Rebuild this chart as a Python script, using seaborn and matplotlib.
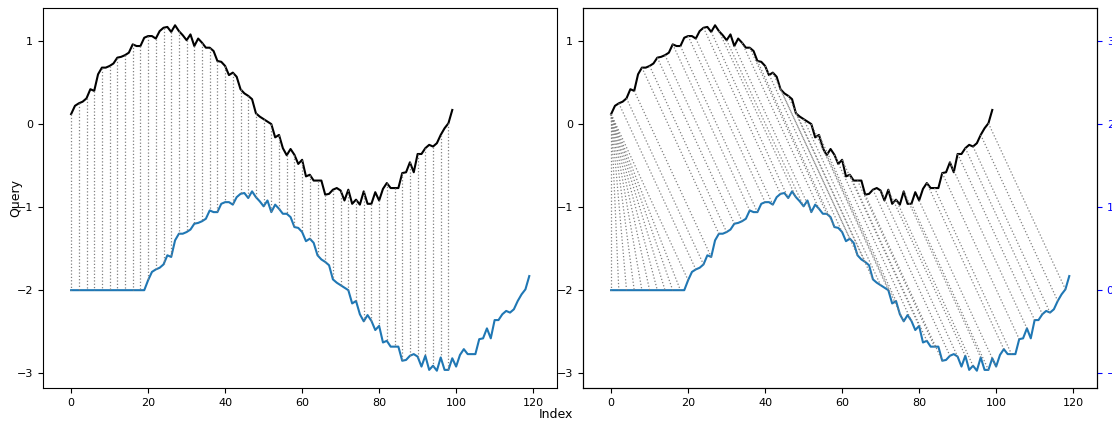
import numpy as np
import pandas as pd
import matplotlib
matplotlib.use("Agg")
import matplotlib.pyplot as plt
import seaborn as sns
from matplotlib.collections import LineCollection

# ---- data ----
query = [0.12, 0.22, 0.25, 0.27, 0.31, 0.42, 0.40, 0.60, 0.68, 0.68,
         0.70, 0.73, 0.80, 0.81, 0.83, 0.86, 0.96, 0.94, 0.94, 1.04,
         1.06, 1.06, 1.03, 1.12, 1.16, 1.17, 1.11, 1.19, 1.12, 1.07,
         1.01, 1.08, 0.94, 1.03, 0.98, 0.92, 0.92, 0.88, 0.76, 0.75,
         0.70, 0.59, 0.62, 0.57, 0.42, 0.37, 0.34, 0.30, 0.13, 0.09,
         0.06, 0.03, 0.00, -0.16, -0.13, -0.29, -0.375, -0.30, -0.37, -0.48,
         -0.43, -0.63, -0.61, -0.68, -0.68, -0.68, -0.85, -0.84, -0.79, -0.77,
         -0.80, -0.92, -0.79, -0.96, -0.91, -0.97, -0.81, -0.96, -0.96, -0.82,
         -0.92, -0.78, -0.71, -0.77, -0.77, -0.77, -0.59, -0.58, -0.46, -0.58,
         -0.36, -0.36, -0.29, -0.25, -0.27, -0.23, -0.13, -0.05, 0.01, 0.17]
reference_pad = [0.0] * 20
reference = reference_pad + query
offset = -2.0

# alignment (warping) paths: pairs (query index, reference index)
left_q = list(range(0, 100))
left_r = list(range(0, 100))
right_q = [0] * 21 + list(range(1, 100))
right_r = list(range(0, 120))
match_step = 2

xticks = [0, 20, 40, 60, 80, 100, 120]
yticks = [-3, -2, -1, 0, 1]

# ---- figure ----
W, H = 1112, 421
fig, axes = plt.subplots(1, 2, figsize=(W / 100, H / 100), dpi=100)
fig.subplots_adjust(left=43 / W, right=1097 / W, top=1 - 8 / H,
                    bottom=1 - 388 / H, wspace=26 / 514)

q_df = pd.DataFrame({"Index": np.arange(len(query)), "value": query})
r_df = pd.DataFrame({"Index": np.arange(len(reference)),
                     "value": np.array(reference) + offset})


def draw(ax, qi, ri):
    sns.lineplot(data=q_df, x="Index", y="value", ax=ax, color="black",
                 linewidth=1.5)
    sns.lineplot(data=r_df, x="Index", y="value", ax=ax, color="#1f77b4",
                 linewidth=1.5)
    segs = []
    for k in range(0, len(qi), match_step):
        i, j = qi[k], ri[k]
        segs.append([(i, query[i]), (j, reference[j] + offset)])
    lc = LineCollection(segs, linewidths=0.9, linestyles=":", colors="gray")
    ax.add_collection(lc)
    ax.set_xticks(xticks)
    ax.set_yticks(yticks)
    ax.set_xlim(-7.3, 126.2)
    ax.tick_params(labelsize=8)
    ax.set_xlabel("")
    ax.set_ylabel("")


draw(axes[0], left_q, left_r)
draw(axes[1], right_q, right_r)
axes[0].set_ylabel("Query", fontsize=9)
axes[0].yaxis.set_label_coords(-(43 - 22) / 514, 0.5)

ax2 = axes[1].twinx()
ax2.tick_params("y", colors="b", labelsize=8)
lo, hi = axes[1].get_ylim()
ax2.set_ylim(lo - offset, hi - offset)

fig.supxlabel("Index", fontsize=9, y=0.0, va="bottom")

fig.savefig("out.png", dpi=100)
